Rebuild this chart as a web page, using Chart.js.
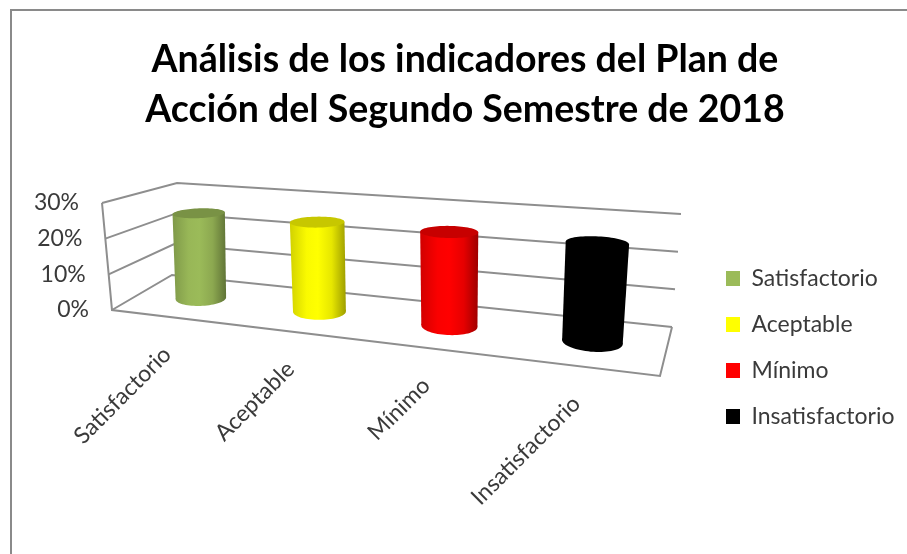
<!DOCTYPE html>
<html><head><meta charset="utf-8">
<style>
html,body{margin:0;padding:0;background:#fff;overflow:hidden}
#wrap{position:relative;width:907px;height:554px}
#frame{position:absolute;left:10px;top:9px;right:0;bottom:0;border-left:2px solid #8a8a8a;border-top:2px solid #8a8a8a}
canvas{position:absolute;left:0;top:0}
</style>
<script src="https://cdn.jsdelivr.net/npm/chart.js@4"></script>
</head><body>
<div id="wrap"><div id="frame"></div><canvas id="c" width="907" height="554"></canvas></div>
<script>
const titleLines = ['Análisis de los indicadores del Plan de','Acción del Segundo Semestre de 2018'];
const categories = ['Satisfactorio','Aceptable','Mínimo','Insatisfactorio'];
const values = [25,25,25,25];
const yTicks = [0,10,20,30];
const barColors = ['#9bbb59','#ffff00','#ff0000','#000000'];
const textColor = '#3a3a3a';
const gridColor = '#8e8e8e';

// Screen corners of the 3D box (walls) used as the projection of the scales
const FLOOR = [[112,310],[660,376],[672,327],[172,275]];   // front-left, front-right, back-right, back-left
const ROOF  = [[102,203],[672,245],[681,214],[177,183]];
const DEPTH_R = 0.2;
const BAR_U_SHIFT = 0.0045;

function homography(q){
  const [x0,y0]=q[0],[x1,y1]=q[1],[x2,y2]=q[2],[x3,y3]=q[3];
  const dx1=x1-x2,dx2=x3-x2,sx=x0-x1+x2-x3,dy1=y1-y2,dy2=y3-y2,sy=y0-y1+y2-y3;
  const den=dx1*dy2-dx2*dy1;
  const g=(sx*dy2-dx2*sy)/den,h=(dx1*sy-sx*dy1)/den;
  const a=x1-x0+g*x1,b=x3-x0+h*x3,c=x0,d=y1-y0+g*y1,e=y3-y0+h*y3,f=y0;
  return (u,v)=>{const w=g*u+h*v+1;return [(a*u+b*v+c)/w,(d*u+e*v+f)/w];};
}
const hFloor=homography(FLOOR),hRoof=homography(ROOF);
function proj(u,d,v){
  const p=hFloor(u,d),q=hRoof(u,d);
  return [p[0]+(q[0]-p[0])*v,p[1]+(q[1]-p[1])*v];
}
function shade(hex,k){
  const n=parseInt(hex.slice(1),16);
  const c=[(n>>16)&255,(n>>8)&255,n&255].map(x=>Math.round(x*k));
  return `rgb(${c[0]},${c[1]},${c[2]})`;
}
function polyline(ctx,pts){
  ctx.beginPath();
  pts.forEach((p,i)=>i?ctx.lineTo(p[0],p[1]):ctx.moveTo(p[0],p[1]));
  ctx.stroke();
}
function ring(u,a,v){
  const pts=[];
  for(let i=0;i<72;i++){
    const t=i/72*2*Math.PI;
    pts.push(proj(u+a*Math.cos(t),0.5+DEPTH_R*Math.sin(t),v));
  }
  return pts;
}
function fillPts(ctx,pts,style){
  ctx.fillStyle=style;ctx.beginPath();
  pts.forEach((p,i)=>i?ctx.lineTo(p[0],p[1]):ctx.moveTo(p[0],p[1]));
  ctx.closePath();ctx.fill();
}
const box3d={
  id:'box3d',
  afterLayout(chart){
    const t=chart.titleBlock;
    t.left=11.5;t.right=chart.width+11.5;
    const l=chart.legend;
    const w=l.width,h=l.height;
    l.left=703;l.right=703+w;l.top=244;l.bottom=244+h;
  },
  beforeDraw(chart){
    const xs=chart.scales.x,ys=chart.scales.y;
    const V=val=>(ys.bottom-ys.getPixelForValue(val))/(ys.bottom-ys.top);
    ys.getLabelItems(chart.chartArea).forEach((it,i)=>{
      const p=proj(0,0,V(ys.ticks[i].value));
      it.options.translation=[p[0]-23,p[1]];
    });
    xs.getLabelItems(chart.chartArea).forEach((it,i)=>{
      const u=(xs.getPixelForValue(i)-xs.left)/xs.width;
      const p=proj(u,0,0);
      it.options.translation=[p[0]-12,p[1]+24];
    });
  },
  beforeDatasetsDraw(chart){
    const ctx=chart.ctx,ys=chart.scales.y;
    const V=val=>(ys.bottom-ys.getPixelForValue(val))/(ys.bottom-ys.top);
    ctx.save();
    ctx.strokeStyle=gridColor;ctx.lineWidth=2;ctx.lineJoin='miter';
    ys.ticks.forEach(t=>{
      const v=V(t.value);
      polyline(ctx,[proj(0,0,v),proj(0,1,v),proj(1,1,v)]);
    });
    polyline(ctx,[proj(0,0,1),proj(0,0,0),proj(1,0,0),proj(1,1,0)]);
    ctx.restore();
  },
  beforeDatasetDraw(chart,args){
    const ctx=chart.ctx,xs=chart.scales.x,ys=chart.scales.y;
    const V=px=>(ys.bottom-px)/(ys.bottom-ys.top);
    args.meta.data.forEach((el,i)=>{
      const u=(el.x-xs.left)/xs.width+BAR_U_SHIFT,a=el.width/2/xs.width;
      const bot=ring(u,a,V(el.base)),top=ring(u,a,V(el.y));
      const col=barColors[i];
      const pick=(pts,f)=>pts.reduce((m,p)=>f(p,m)?p:m);
      const bl=pick(bot,(p,m)=>p[0]<m[0]),br=pick(bot,(p,m)=>p[0]>m[0]);
      const tl=pick(top,(p,m)=>p[0]<m[0]),tr=pick(top,(p,m)=>p[0]>m[0]);
      const x0=Math.min(bl[0],tl[0]),x1=Math.max(br[0],tr[0]);
      const g=ctx.createLinearGradient(x0,0,x1,0);
      g.addColorStop(0,shade(col,0.82));
      g.addColorStop(0.3,shade(col,0.98));
      g.addColorStop(0.5,shade(col,1));
      g.addColorStop(0.75,shade(col,0.9));
      g.addColorStop(1,shade(col,0.62));
      fillPts(ctx,bot,g);
      fillPts(ctx,[bl,tl,tr,br],g);
      fillPts(ctx,top,shade(col,0.78));
    });
    return false;
  }
};
new Chart(document.getElementById('c'),{
  type:'bar',
  data:{labels:categories,datasets:[{label:'Serie',data:values,backgroundColor:barColors,barPercentage:0.40,categoryPercentage:1}]},
  plugins:[box3d],
  options:{
    responsive:false,animation:false,devicePixelRatio:1,
    layout:{padding:{left:0,right:10,top:10,bottom:0}},
    plugins:{
      tooltip:{enabled:false},
      title:{display:true,text:titleLines,color:'#000',font:{family:'Lato',size:37.5,weight:'bold',lineHeight:1.333},padding:{top:25,bottom:50}},
      legend:{position:'right',align:'start',labels:{
        color:textColor,font:{family:'Lato',size:23},boxWidth:14,boxHeight:15,padding:23,
        generateLabels:()=>categories.map((c,i)=>({text:c,fillStyle:barColors[i],strokeStyle:barColors[i],lineWidth:0,fontColor:textColor,index:i}))
      }}
    },
    scales:{
      x:{grid:{display:false},border:{display:false},
        ticks:{color:textColor,font:{family:'Lato',size:23},minRotation:45,maxRotation:45,autoSkip:false},
        afterFit(s){s.height=244;}},
      y:{min:0,max:30,grid:{display:false},border:{display:false},
        afterBuildTicks(s){s.ticks=yTicks.map(v=>({value:v}));},
        ticks:{color:textColor,font:{family:'Lato',size:23},callback:v=>v+'%'},
        afterFit(s){s.width=110;}}
    }
  }
});
</script>
</body></html>
